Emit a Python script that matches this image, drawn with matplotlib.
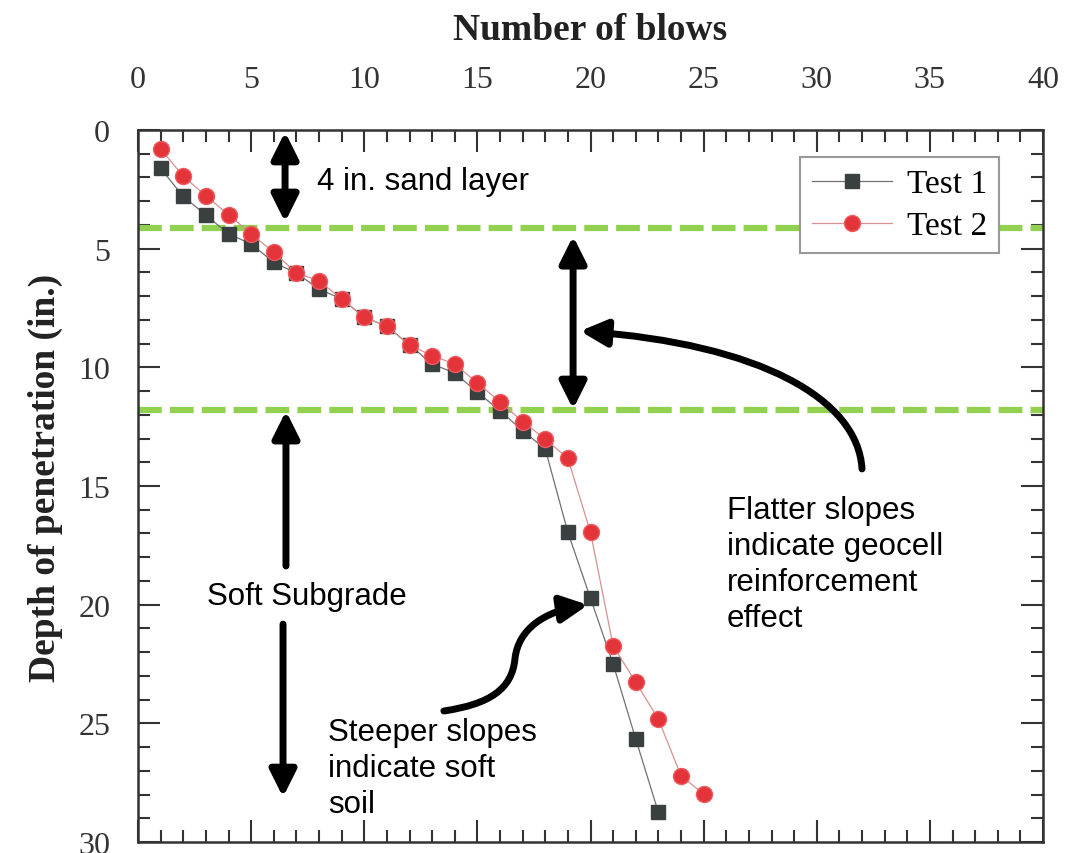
import matplotlib.pyplot as plt
import matplotlib.patches as patches
from matplotlib.path import Path
from matplotlib.ticker import MultipleLocator

# data
blows_1 = list(range(1, 24))
depth_1 = [1.62, 2.80, 3.58, 4.38, 4.80, 5.58, 6.03, 6.70, 7.12, 7.89, 8.27, 9.06,
           9.86, 10.24, 11.05, 11.83, 12.67, 13.44, 16.95, 19.73, 22.50, 25.66, 28.75]
blows_2 = list(range(1, 26))
depth_2 = [0.80, 1.95, 2.77, 3.57, 4.38, 5.15, 6.03, 6.35, 7.12, 7.89, 8.27, 9.06,
           9.51, 9.86, 10.66, 11.45, 12.29, 13.02, 13.84, 16.95, 21.73, 23.27, 24.82,
           27.21, 27.98]
layer_bounds = [4.15, 11.8]
x_ticks = [0, 5, 10, 15, 20, 25, 30, 35, 40]
y_ticks = [0, 5, 10, 15, 20, 25, 30]

serif = 'Liberation Serif'
sans = 'Liberation Sans'

fig = plt.figure(figsize=(10.84, 8.54), dpi=100)
ax = fig.add_axes([138/1084, 1 - 843/854, (1043 - 138)/1084, (843 - 131)/854])

ax.plot(blows_1, depth_1, color='#707070', lw=0.9, marker='s', ms=10.5,
        mfc='#3a3f3f', mec='#3a3f3f', label='Test 1', zorder=3)
ax.plot(blows_2, depth_2, color='#d99090', lw=0.9, marker='o', ms=11.5,
        mfc='#e3343a', mec='#ee5a5e', mew=1, label='Test 2', zorder=4)

for yb in layer_bounds:
    ax.axhline(yb, color='#92D050', lw=4.5, dashes=(3.8, 1.3), zorder=2)

ax.set_xlim(0, 40)
ax.set_ylim(30, 0)
ax.set_xticks(x_ticks)
ax.set_yticks(y_ticks)
ax.xaxis.set_minor_locator(MultipleLocator(1))
ax.yaxis.set_minor_locator(MultipleLocator(1))
ax.xaxis.tick_top()
ax.tick_params(which='both', direction='in', top=True, bottom=True, left=True, right=True,
               labeltop=True, labelbottom=False, labelleft=True, labelright=False,
               color='#333333', width=1.5, labelcolor='#333333')
ax.tick_params(which='major', length=16)
ax.tick_params(which='minor', length=8.5)
ax.tick_params(axis='x', which='major', pad=26)
ax.tick_params(axis='y', which='major', pad=20)
for lab in ax.get_xticklabels() + ax.get_yticklabels():
    lab.set_fontfamily(serif)
    lab.set_fontsize(23)
for sp in ax.spines.values():
    sp.set_linewidth(1.8)
    sp.set_color('#333333')

ax.xaxis.set_label_position('top')
ax.set_xlabel('Number of blows', fontfamily=serif, fontsize=27, fontweight='bold', color='#222222')
ax.xaxis.set_label_coords(0.5, 1.128)
ax.set_ylabel('Depth of penetration (in.)', fontfamily=serif, fontsize=27, fontweight='bold', color='#222222')
ax.yaxis.set_label_coords(-0.083, 0.513)

leg = ax.legend(loc='upper right', bbox_to_anchor=(0.951, 0.962), borderaxespad=0,
                prop={'family': serif, 'size': 24}, fancybox=False, framealpha=1,
                edgecolor='#999999', handlelength=2.4, handletextpad=0.45,
                labelspacing=0.35, borderpad=0.35)
leg.get_frame().set_linewidth(1.5)
leg.set_zorder(5)

# straight arrows
arrow_kw = dict(lw=5, color='black', mutation_scale=20, shrinkA=0, shrinkB=0)
two_way = '<|-|>,head_length=0.8,head_width=0.4'
one_way = '-|>,head_length=0.8,head_width=0.4'
ax.annotate('', xy=(6.5, 3.88), xytext=(6.5, 0.08), arrowprops=dict(arrowstyle=two_way, **arrow_kw))
ax.annotate('', xy=(19.23, 11.76), xytext=(19.23, 4.47), arrowprops=dict(arrowstyle=two_way, **arrow_kw))
ax.annotate('', xy=(6.54, 11.84), xytext=(6.54, 18.37), arrowprops=dict(arrowstyle=one_way, **arrow_kw))
ax.annotate('', xy=(6.41, 28.11), xytext=(6.41, 20.82), arrowprops=dict(arrowstyle=one_way, **arrow_kw))

# curved arrows
curve1 = Path([(32.0, 14.28), (31.82, 11.33), (27.49, 9.02), (19.54, 8.47)],
              [Path.MOVETO, Path.CURVE4, Path.CURVE4, Path.CURVE4])
ax.add_patch(patches.FancyArrowPatch(path=curve1, arrowstyle=one_way, lw=5, color='black',
                                     mutation_scale=20, transform=ax.transData, zorder=6))
curve2 = Path([(13.52, 24.48), (15.56, 24.19), (16.53, 23.55), (16.66, 22.29),
               (16.80, 21.02), (17.99, 20.27), (19.89, 20.01)],
              [Path.MOVETO] + [Path.CURVE4] * 6)
ax.add_patch(patches.FancyArrowPatch(path=curve2, arrowstyle=one_way, lw=5, color='black',
                                     mutation_scale=20, transform=ax.transData, zorder=6))

txt_kw = dict(fontfamily=sans, fontsize=22.5, color='black', ha='left', va='center',
              linespacing=1.25, zorder=7)
ax.text(7.9, 2.15, '4 in. sand layer', **txt_kw)
ax.text(3.05, 19.64, 'Soft Subgrade', **txt_kw)
ax.text(26.03, 18.29, 'Flatter slopes\nindicate geocell\nreinforcement\neffect', **txt_kw)
ax.text(8.40, 26.89, 'Steeper slopes\nindicate soft\nsoil', **txt_kw)

fig.savefig('out.png', dpi=100)
